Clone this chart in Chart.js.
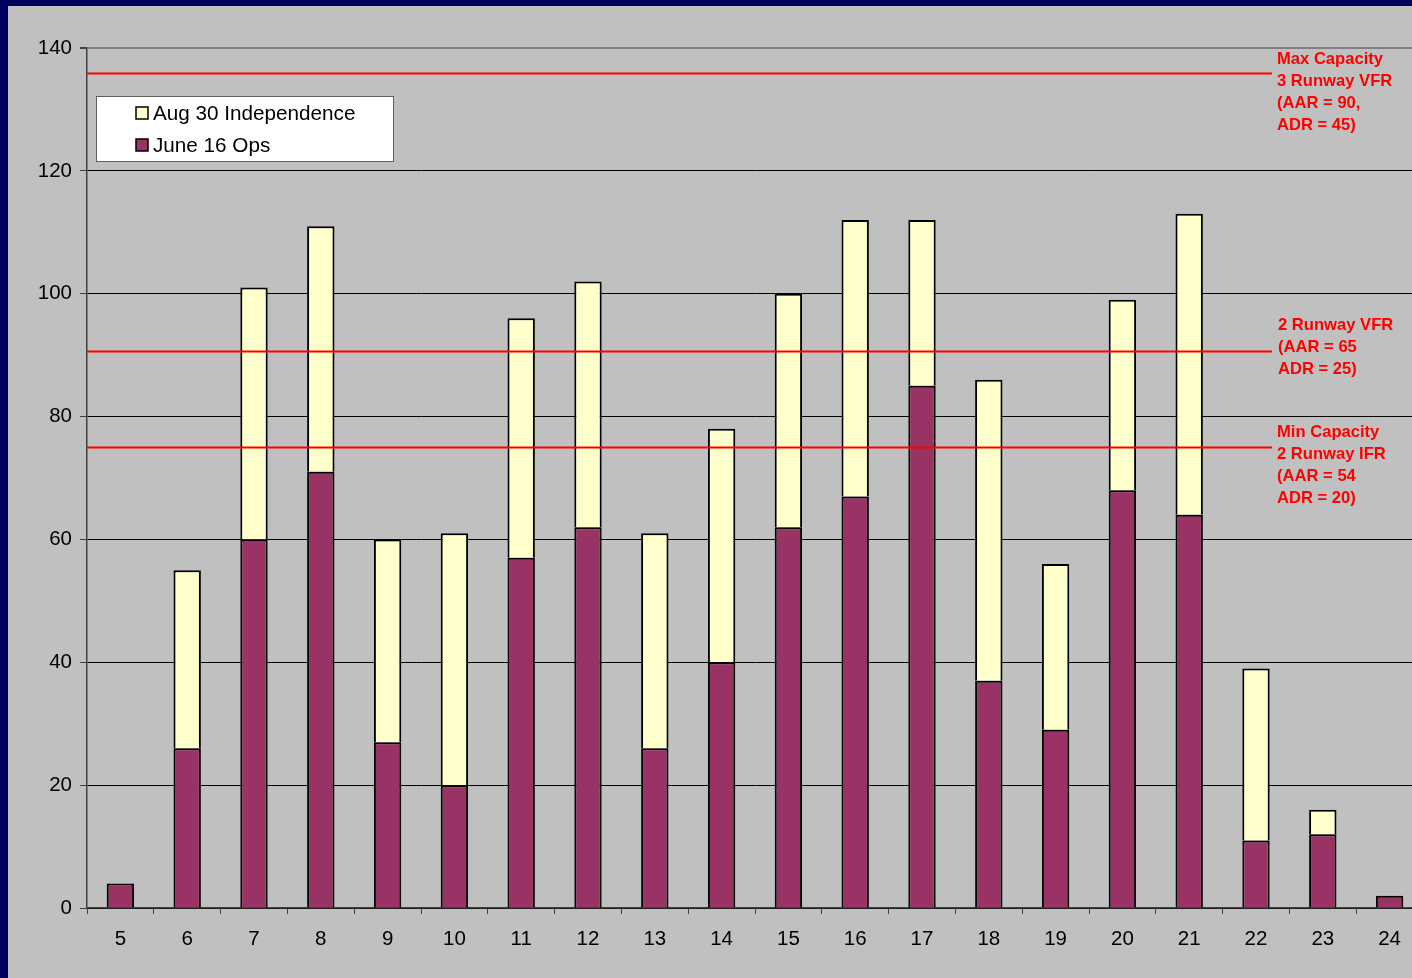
<!DOCTYPE html>
<html>
<head>
<meta charset="utf-8">
<script src="https://cdn.jsdelivr.net/npm/chart.js@4"></script>
<style>
  html, body { margin: 0; padding: 0; background: #000060; overflow: hidden; width: 1412px; height: 978px; }
  #wrap { position: absolute; left: 8px; top: 6px; width: 1404px; height: 972px; overflow: hidden; background: #c0c0c0; }
  canvas { display: block; }
</style>
</head>
<body>
<div id="wrap"><canvas id="opsChart" width="1432" height="972"></canvas></div>
<script>
// hours of the day
const hours = ['5', '6', '7', '8', '9', '10', '11', '12', '13', '14', '15', '16', '17', '18', '19', '20', '21', '22', '23', '24'];
// june 16 ops (bottom of stack)
const june16 = [4, 26, 60, 71, 27, 20, 57, 62, 26, 40, 62, 67, 85, 37, 29, 68, 64, 11, 12, 2];
// aug 30 independence (added on top)
const aug30 = [0, 29, 41, 40, 33, 41, 39, 40, 35, 38, 38, 45, 27, 49, 27, 31, 49, 28, 4, 0];
const yTicks = [0, 20, 40, 60, 80, 100, 120, 140];

// capacity lines + their labels
const capValues = [136, 90.7, 75];
const capLabels = [
  ['Max Capacity', '3 Runway VFR', '(AAR = 90,', 'ADR = 45)'],
  ['2 Runway VFR', '(AAR = 65', 'ADR = 25)'],
  ['Min Capacity', '2 Runway IFR', '(AAR = 54', 'ADR = 20)']
];

const FONT = '"Liberation Sans", Arial, sans-serif';

const capacityPlugin = {
  id: 'capacity',
  afterDatasetsDraw(chart) {
    const { ctx, chartArea, scales } = chart;
    const lineEnd = 1264;
    const shifts = [-14, -26, -15];
    ctx.save();
    capValues.forEach((v, i) => {
      const y = Math.round(scales.y.getPixelForValue(v)) + 0.5;
      ctx.strokeStyle = '#ff0000';
      ctx.lineWidth = 2;
      ctx.beginPath();
      ctx.moveTo(chartArea.left, y);
      ctx.lineTo(lineEnd, y);
      ctx.stroke();
      ctx.fillStyle = '#ff0000';
      ctx.font = 'bold 16.6px ' + FONT;
      ctx.textBaseline = 'middle';
      ctx.textAlign = 'left';
      capLabels[i].forEach((t, j) => {
        ctx.fillText(t, lineEnd + 5 + (i === 1 ? 1 : 0), y + shifts[i] + j * 22);
      });
    });
    ctx.restore();
  }
};

const legendPlugin = {
  id: 'boxLegend',
  afterDraw(chart) {
    const { ctx } = chart;
    const x = 88, y = 90, w = 297, h = 65;
    ctx.save();
    ctx.fillStyle = '#ffffff';
    ctx.fillRect(x, y, w, h);
    ctx.strokeStyle = '#606060';
    ctx.lineWidth = 1;
    ctx.strokeRect(x + 0.5, y + 0.5, w, h);
    const items = [chart.data.datasets[1], chart.data.datasets[0]];
    ctx.font = '20.7px ' + FONT;
    ctx.textBaseline = 'middle';
    items.forEach((ds, i) => {
      const cy = y + 17 + i * 32;
      ctx.fillStyle = ds.backgroundColor;
      ctx.fillRect(x + 40, cy - 6, 12, 12);
      ctx.strokeStyle = '#000';
      ctx.lineWidth = 1.5;
      ctx.strokeRect(x + 40, cy - 6, 12, 12);
      ctx.fillStyle = '#000';
      ctx.fillText(ds.label, x + 57, cy + 1);
    });
    ctx.restore();
  }
};

const ctx = document.getElementById('opsChart').getContext('2d');
new Chart(ctx, {
  type: 'bar',
  data: {
    labels: hours,
    datasets: [{
      label: 'June 16 Ops',
      data: june16,
      backgroundColor: '#993366',
      borderColor: '#000000',
      borderWidth: 2,
      barPercentage: 0.41,
      categoryPercentage: 1
    }, {
      label: 'Aug 30 Independence',
      data: aug30,
      backgroundColor: '#ffffcc',
      borderColor: '#000000',
      borderWidth: 2,
      barPercentage: 0.41,
      categoryPercentage: 1
    }]
  },
  options: {
    responsive: false,
    animation: false,
    devicePixelRatio: 1,
    layout: {
      padding: { top: 42, right: 17, left: 0, bottom: 0 }
    },
    plugins: {
      legend: { display: false },
      tooltip: { enabled: false }
    },
    scales: {
      x: {
        stacked: true,
        grid: {
          drawOnChartArea: false,
          drawTicks: true,
          tickLength: 6,
          tickColor: '#404040',
          offset: true
        },
        border: { color: '#404040', width: 1.5 },
        ticks: {
          color: '#000',
          font: { family: FONT, size: 20.5 },
          padding: 13,
          maxRotation: 0,
          autoSkip: false
        },
        afterFit(scale) { scale.height = 70; }
      },
      y: {
        stacked: true,
        min: 0,
        max: 140,
        afterBuildTicks(scale) { scale.ticks = yTicks.map(v => ({ value: v })); },
        grid: {
          color: c => (c.tick && c.tick.value === 140 ? '#808080' : '#000000'),
          lineWidth: c => (c.tick && c.tick.value === 140 ? 2 : 1),
          tickLength: 7,
          tickColor: '#404040'
        },
        border: { color: '#404040', width: 1.5 },
        ticks: {
          color: '#000',
          font: { family: FONT, size: 20.5 },
          padding: 8
        },
        afterFit(scale) { scale.width = 79; }
      }
    }
  },
  plugins: [capacityPlugin, legendPlugin]
});
</script>
</body>
</html>
